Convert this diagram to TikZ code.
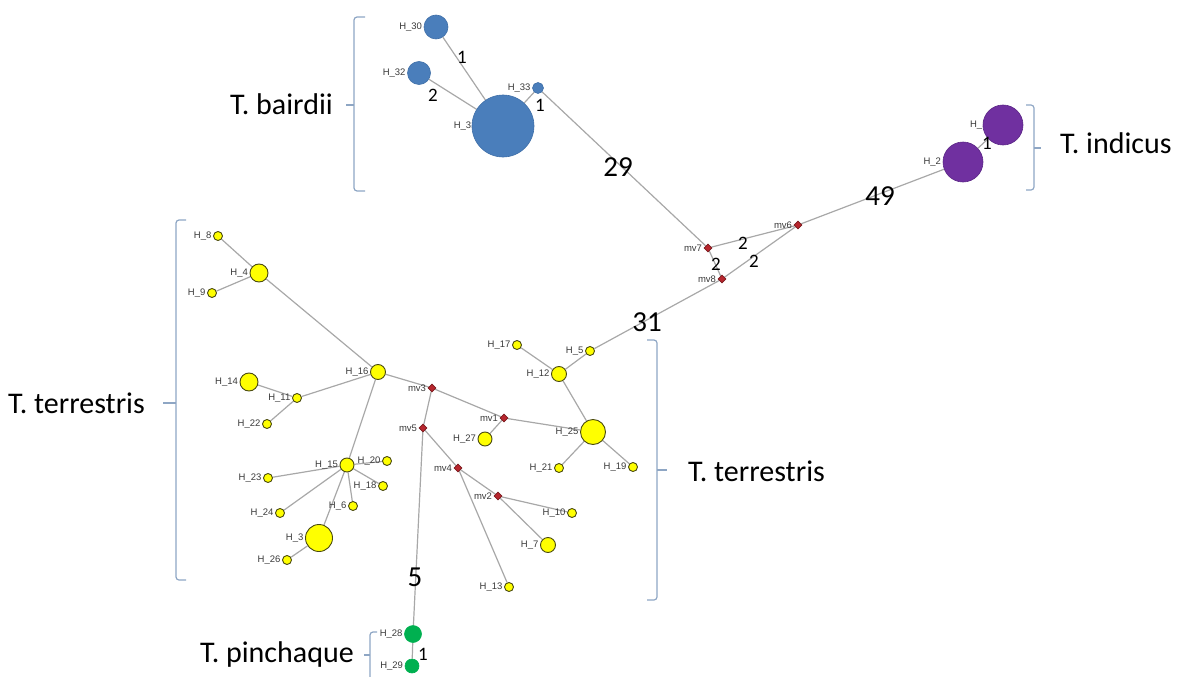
\documentclass[tikz,border=0pt]{standalone}
\usepackage{fontspec}
\setmainfont{Carlito}
\newfontfamily\labfont{Liberation Sans}
\usetikzlibrary{shapes.geometric}
\pgfdeclarelayer{bg}
\pgfsetlayers{bg,main}
\definecolor{edgegray}{HTML}{A8A8A8}
\definecolor{hapyellow}{HTML}{FFFF00}
\definecolor{yellowline}{HTML}{4A4A10}
\definecolor{hapblue}{HTML}{4A7EBB}
\definecolor{hapblueline}{HTML}{3F6FA8}
\definecolor{happurple}{HTML}{7030A0}
\definecolor{happurpleline}{HTML}{5A2585}
\definecolor{hapgreen}{HTML}{00B050}
\definecolor{mvred}{HTML}{B8262E}
\definecolor{mvline}{HTML}{7A1A1E}
\definecolor{brk}{HTML}{8EA6C4}
\definecolor{labgray}{HTML}{3A3A3A}
\tikzset{
  hapy/.style={circle, inner sep=0pt, draw=yellowline, fill=hapyellow, line width=0.9pt, minimum size=#1},
  hapb/.style={circle, inner sep=0pt, draw=hapblueline, fill=hapblue, line width=0.6pt, minimum size=#1},
  happ/.style={circle, inner sep=0pt, draw=happurpleline, fill=happurple, line width=0.6pt, minimum size=#1},
  hapg/.style={circle, inner sep=0pt, draw=hapgreen, fill=hapgreen, line width=0.6pt, minimum size=#1},
  mvnode/.style={diamond, inner sep=0pt, draw=mvline, fill=mvred, line width=0.6pt, minimum width=8pt, minimum height=8pt},
  edge/.style={draw=edgegray, line width=1.2pt},
  nlab/.style={font=\labfont\fontsize{9.5}{10}\selectfont, text=labgray, inner sep=0pt, anchor=east},
  smalllab/.style={font=\fontsize{19}{20}\selectfont, inner sep=0pt, text=black},
  biglab/.style={font=\fontsize{29}{30}\selectfont, inner sep=0pt, text=black},
  species/.style={font=\fontsize{30}{31}\selectfont, inner sep=0pt, text=black},
  bracket/.style={draw=brk, line width=1.2pt, rounded corners=3pt},
}
\begin{document}
\begin{tikzpicture}[x=1pt,y=-1pt]
\useasboundingbox (0,0) rectangle (1192,677);

% ---------- haplotype nodes ----------
% T. bairdii
\node[hapb=24pt] (H30) at (436,27) {};
\node[hapb=23pt] (H32) at (419,73) {};
\node[hapb=62pt] (H31) at (503,126) {};
\node[hapb=11pt] (H33) at (538,88) {};
% T. indicus
\node[happ=40pt] (H1) at (1003,125) {};
\node[happ=40pt] (H2) at (963,162) {};
% T. pinchaque
\node[hapg=17pt] (H28) at (413,634) {};
\node[hapg=14pt] (H29) at (412,666) {};
% median vectors
\node[mvnode] (mv7) at (708,248) {};
\node[mvnode] (mv8) at (722,279) {};
\node[mvnode] (mv6) at (798,225) {};
\node[mvnode] (mv3) at (432,388) {};
\node[mvnode] (mv1) at (504,418) {};
\node[mvnode] (mv5) at (423,428) {};
\node[mvnode] (mv4) at (458,468) {};
\node[mvnode] (mv2) at (498,496) {};
% T. terrestris
\node[hapy=9pt]  (H8)  at (218,236) {};
\node[hapy=18pt] (H4)  at (259,273) {};
\node[hapy=9pt]  (H9)  at (212,293) {};
\node[hapy=15pt] (H16) at (378,372) {};
\node[hapy=18pt] (H14) at (249,382) {};
\node[hapy=9pt]  (H11) at (297,398) {};
\node[hapy=9pt]  (H22) at (267,424) {};
\node[hapy=14pt] (H15) at (347,465) {};
\node[hapy=9pt]  (H20) at (387,461) {};
\node[hapy=9pt]  (H23) at (268,478) {};
\node[hapy=9pt]  (H18) at (383,486) {};
\node[hapy=9pt]  (H6)  at (353,506) {};
\node[hapy=9pt]  (H24) at (280,513) {};
\node[hapy=27pt] (H3)  at (319,538) {};
\node[hapy=9pt]  (H26) at (287,560) {};
\node[hapy=9pt]  (H17) at (517,345) {};
\node[hapy=9pt]  (H5)  at (590,351) {};
\node[hapy=15pt] (H12) at (559,374) {};
\node[hapy=25pt] (H25) at (593,432) {};
\node[hapy=14pt] (H27) at (485,439) {};
\node[hapy=9pt]  (H21) at (559,468) {};
\node[hapy=9pt]  (H19) at (633,467) {};
\node[hapy=9pt]  (H10) at (572,513) {};
\node[hapy=15pt] (H7)  at (548,545) {};
\node[hapy=9pt]  (H13) at (509,587) {};

\begin{pgfonlayer}{bg}
% ---------- connectors ----------
\draw[edge] (H30) -- (H31);
\draw[edge] (H32) -- (H31);
\draw[edge] (H33) -- (H31);
\draw[edge] (H33) -- (mv7);
\draw[edge] (mv7) -- (mv6);
\draw[edge] (mv7) -- (mv8);
\draw[edge] (mv8) -- (mv6);
\draw[edge] (mv6) -- (H2);
\draw[edge] (H2) -- (H1);
\draw[edge] (mv8) -- (H5);
\draw[edge] (H5) -- (H12);
\draw[edge] (H17) -- (H12);
\draw[edge] (H12) -- (H25);
\draw[edge] (H25) -- (H21);
\draw[edge] (H25) -- (H19);
\draw[edge] (H25) -- (mv1);
\draw[edge] (mv1) -- (H27);
\draw[edge] (mv1) -- (mv3);
\draw[edge] (mv3) -- (H16);
\draw[edge] (mv3) -- (mv5);
\draw[edge] (mv5) -- (mv4);
\draw[edge] (mv5) -- (H28);
\draw[edge] (H28) -- (H29);
\draw[edge] (mv4) -- (mv2);
\draw[edge] (mv4) -- (H13);
\draw[edge] (mv2) -- (H10);
\draw[edge] (mv2) -- (H7);
\draw[edge] (H16) -- (H4);
\draw[edge] (H4) -- (H8);
\draw[edge] (H4) -- (H9);
\draw[edge] (H16) -- (H11);
\draw[edge] (H11) -- (H14);
\draw[edge] (H11) -- (H22);
\draw[edge] (H16) -- (H15);
\draw[edge] (H15) -- (H20);
\draw[edge] (H15) -- (H18);
\draw[edge] (H15) -- (H6);
\draw[edge] (H15) -- (H23);
\draw[edge] (H15) -- (H24);
\draw[edge] (H15) -- (H3);
\draw[edge] (H3) -- (H26);

% ---------- node labels ----------
\node[nlab] (lH30) at ([xshift=-1.5pt]H30.west) {H\_30};
\node[nlab] (lH32) at ([xshift=-1.5pt]H32.west) {H\_32};
\node[nlab] (lH31) at ([xshift=5pt]H31.west) {H\_31};
\node[nlab] (lH33) at ([xshift=-1.5pt]H33.west) {H\_33};
\node[nlab] (lH1)  at ([xshift=5pt]H1.west) {H\_1};
\node[nlab] (lH2)  at ([xshift=-1.5pt]H2.west) {H\_2};
\node[nlab] (lH28) at ([xshift=-1.5pt]H28.west) {H\_28};
\node[nlab] (lH29) at ([xshift=-1.5pt]H29.west) {H\_29};
\node[nlab] (lmv7) at ([xshift=-1.5pt]mv7.west) {mv7};
\node[nlab] (lmv8) at ([xshift=-1.5pt]mv8.west) {mv8};
\node[nlab] (lmv6) at ([xshift=-1.5pt]mv6.west) {mv6};
\node[nlab] (lmv3) at ([xshift=-1.5pt]mv3.west) {mv3};
\node[nlab] (lmv1) at ([xshift=-1.5pt]mv1.west) {mv1};
\node[nlab] (lmv5) at ([xshift=-1.5pt]mv5.west) {mv5};
\node[nlab] (lmv4) at ([xshift=-1.5pt]mv4.west) {mv4};
\node[nlab] (lmv2) at ([xshift=-1.5pt]mv2.west) {mv2};
\node[nlab] (lH8)  at ([xshift=-1.5pt]H8.west) {H\_8};
\node[nlab] (lH4)  at ([xshift=-1.5pt]H4.west) {H\_4};
\node[nlab] (lH9)  at ([xshift=-1.5pt]H9.west) {H\_9};
\node[nlab] (lH16) at ([xshift=-1.5pt]H16.west) {H\_16};
\node[nlab] (lH14) at ([xshift=-1.5pt]H14.west) {H\_14};
\node[nlab] (lH11) at ([xshift=-1.5pt]H11.west) {H\_11};
\node[nlab] (lH22) at ([xshift=-1.5pt]H22.west) {H\_22};
\node[nlab] (lH15) at ([xshift=-1.5pt]H15.west) {H\_15};
\node[nlab] (lH20) at ([xshift=-1.5pt]H20.west) {H\_20};
\node[nlab] (lH23) at ([xshift=-1.5pt]H23.west) {H\_23};
\node[nlab] (lH18) at ([xshift=-1.5pt]H18.west) {H\_18};
\node[nlab] (lH6)  at ([xshift=-1.5pt]H6.west) {H\_6};
\node[nlab] (lH24) at ([xshift=-1.5pt]H24.west) {H\_24};
\node[nlab] (lH3)  at ([xshift=-1.5pt]H3.west) {H\_3};
\node[nlab] (lH26) at ([xshift=-1.5pt]H26.west) {H\_26};
\node[nlab] (lH17) at ([xshift=-1.5pt]H17.west) {H\_17};
\node[nlab] (lH5)  at ([xshift=-1.5pt]H5.west) {H\_5};
\node[nlab] (lH12) at ([xshift=-1.5pt]H12.west) {H\_12};
\node[nlab] (lH25) at ([xshift=-1.5pt]H25.west) {H\_25};
\node[nlab] (lH27) at ([xshift=-1.5pt]H27.west) {H\_27};
\node[nlab] (lH21) at ([xshift=-1.5pt]H21.west) {H\_21};
\node[nlab] (lH19) at ([xshift=-1.5pt]H19.west) {H\_19};
\node[nlab] (lH10) at ([xshift=-1.5pt]H10.west) {H\_10};
\node[nlab] (lH7)  at ([xshift=-1.5pt]H7.west) {H\_7};
\node[nlab] (lH13) at ([xshift=-1.5pt]H13.west) {H\_13};
\end{pgfonlayer}

% ---------- mutation counts ----------
\node[smalllab] (e1) at (462,57) {1};
\node[smalllab] (e2) at (433,95) {2};
\node[smalllab] (e3) at (540,105) {1};
\node[biglab]   (e4) at (618,167) {29};
\node[biglab]   (e5) at (880,196) {49};
\node[smalllab] (e6) at (743,243) {2};
\node[smalllab] (e7) at (754,261) {2};
\node[smalllab] (e8) at (716,264) {2};
\node[smalllab] (e9) at (987,143) {1};
\node[biglab]   (e10) at (647,322) {31};
\node[biglab]   (e11) at (415,577) {5};
\node[smalllab] (e12) at (423,654) {1};

% ---------- brackets and species ----------
\draw[bracket] (365,17) -- (354,17) -- (354,191) -- (365,191);
\draw[bracket] (354,105) -- (346,105);
\node[species, anchor=east] (sBai) at (333,104) {T. bairdii};

\draw[bracket] (1026,105) -- (1034,105) -- (1034,190) -- (1026,190);
\draw[bracket] (1034,148) -- (1041,148);
\node[species, anchor=west] (sInd) at (1060,143) {T. indicus};

\draw[bracket] (186,220) -- (176,220) -- (176,580) -- (186,580);
\draw[bracket] (176,403) -- (163,403);
\node[species, anchor=west] (sTer1) at (8,403) {T. terrestris};

\draw[bracket] (647,340) -- (657,340) -- (657,600) -- (647,600);
\draw[bracket] (657,470) -- (667,470);
\node[species, anchor=west] (sTer2) at (688,471) {T. terrestris};

\draw[bracket] (377,632) -- (370,632) -- (370,680);
\draw[bracket] (370,655) -- (364,655);
\node[species, anchor=east] (sPin) at (354,654) {T. pinchaque};
\end{tikzpicture}
\end{document}
